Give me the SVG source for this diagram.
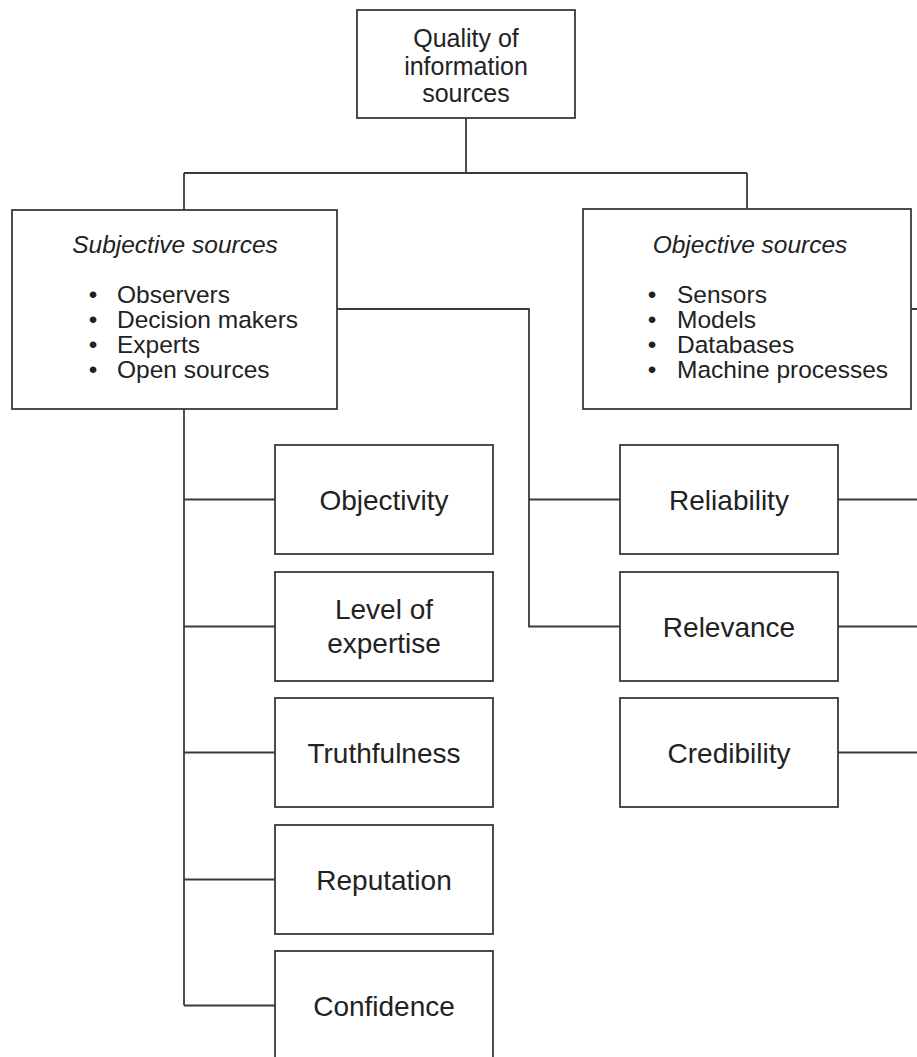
<svg xmlns="http://www.w3.org/2000/svg" width="917" height="1057" viewBox="0 0 917 1057">
<style>
.box{fill:#fff;stroke:#3a3a3a;stroke-width:1.8}
.ln{fill:none;stroke:#3a3a3a;stroke-width:1.8}
text{font-family:"Liberation Sans",Arial,Helvetica,sans-serif;fill:#222}
.t25{font-size:25px;text-anchor:middle}
.it{font-size:24.5px;font-style:italic;text-anchor:middle}
.li{font-size:24.5px}
.bl{font-size:24.5px;text-anchor:middle}
.lab{font-size:28px;text-anchor:middle}
</style>
<rect width="917" height="1057" fill="#fff"/>
<g id="connectors">
<path class="ln" d="M466,118 V173 M184,173 H747 M184,173 V210 M747,173 V209"/>
<path class="ln" d="M184,409 V1005.5 M184,499.5 H275 M184,626.5 H275 M184,752.5 H275 M184,879.5 H275 M184,1005.5 H275"/>
<path class="ln" d="M337,309 H529 V626.5 H620 M529,499.5 H620"/>
<path class="ln" d="M911,309 H917 M838,499.5 H917 M838,626.5 H917 M838,752.5 H917"/>
</g>
<g id="root">
<rect class="box" x="357" y="10" width="218" height="108"/>
<text class="t25" x="466" y="47">Quality of</text>
<text class="t25" x="466" y="75">information</text>
<text class="t25" x="466" y="102">sources</text>
</g>
<g id="subjective">
<rect class="box" x="12" y="210" width="325" height="199"/>
<text class="it" x="175" y="253">Subjective sources</text>
<text class="bl" x="93" y="303">•</text><text class="li" x="117" y="303">Observers</text>
<text class="bl" x="93" y="328">•</text><text class="li" x="117" y="328">Decision makers</text>
<text class="bl" x="93" y="353">•</text><text class="li" x="117" y="353">Experts</text>
<text class="bl" x="93" y="378">•</text><text class="li" x="117" y="378">Open sources</text>
</g>
<g id="objective">
<rect class="box" x="583" y="209" width="328" height="200"/>
<text class="it" x="750" y="253">Objective sources</text>
<text class="bl" x="652" y="303">•</text><text class="li" x="677" y="303">Sensors</text>
<text class="bl" x="652" y="328">•</text><text class="li" x="677" y="328">Models</text>
<text class="bl" x="652" y="353">•</text><text class="li" x="677" y="353">Databases</text>
<text class="bl" x="652" y="378">•</text><text class="li" x="677" y="378">Machine processes</text>
</g>
<g id="objectivity">
<rect class="box" x="275" y="445" width="218" height="109"/>
<text class="lab" x="384" y="509.5">Objectivity</text>
</g>
<g id="level-of-expertise">
<rect class="box" x="275" y="572" width="218" height="109"/>
<text class="lab" x="384" y="619">Level of</text>
<text class="lab" x="384" y="653">expertise</text>
</g>
<g id="truthfulness">
<rect class="box" x="275" y="698" width="218" height="109"/>
<text class="lab" x="384" y="762.5">Truthfulness</text>
</g>
<g id="reputation">
<rect class="box" x="275" y="825" width="218" height="109"/>
<text class="lab" x="384" y="889.5">Reputation</text>
</g>
<g id="confidence">
<rect class="box" x="275" y="951" width="218" height="112"/>
<text class="lab" x="384" y="1015.5">Confidence</text>
</g>
<g id="reliability">
<rect class="box" x="620" y="445" width="218" height="109"/>
<text class="lab" x="729" y="509.5">Reliability</text>
</g>
<g id="relevance">
<rect class="box" x="620" y="572" width="218" height="109"/>
<text class="lab" x="729" y="636.5">Relevance</text>
</g>
<g id="credibility">
<rect class="box" x="620" y="698" width="218" height="109"/>
<text class="lab" x="729" y="762.5">Credibility</text>
</g>
</svg>
